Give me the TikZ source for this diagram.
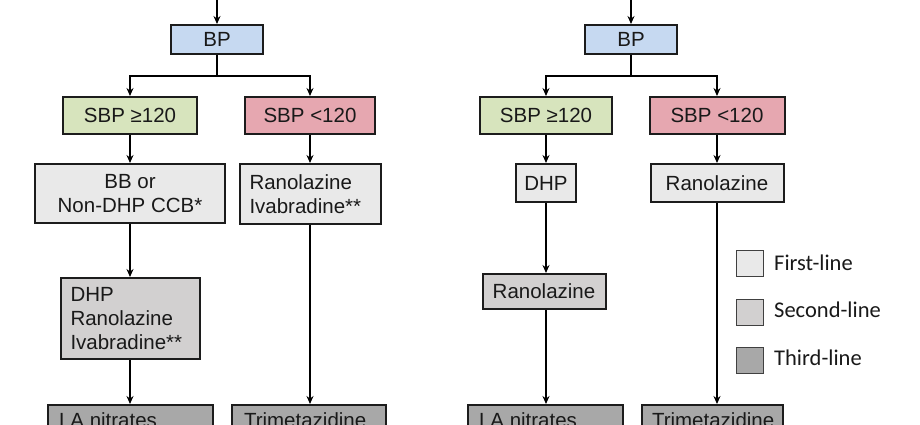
\documentclass[tikz,border=0pt]{standalone}
\usepackage{fontspec}
\setmainfont{Liberation Sans}
\newfontfamily\legfont{Carlito}
\usetikzlibrary{arrows.meta}
\definecolor{bpblue}{HTML}{C6D9F1}
\definecolor{sbpgreen}{HTML}{D7E4BD}
\definecolor{sbpred}{HTML}{E6A7B0}
\definecolor{firstl}{HTML}{E9E9E9}
\definecolor{secondl}{HTML}{D2D0D0}
\definecolor{thirdl}{HTML}{A8A8A8}
\definecolor{edge}{HTML}{1C1C1C}
\tikzset{
  box/.style={draw=edge, line width=2pt, inner sep=0pt, font=\fontsize{20.5}{24}\selectfont, text=black!90},
  boxl/.style={box, align=left, text depth=0pt},
  boxc/.style={box, align=center},
  conn/.style={draw=black, line width=2pt, -{Stealth[length=8pt,width=7pt]}},
  plain/.style={draw=black, line width=2pt},
  legbox/.style={draw=black!75, line width=1pt, minimum width=27pt, minimum height=26pt, inner sep=0pt},
  legtxt/.style={font=\legfont\fontsize{22.5}{26}\selectfont, anchor=west, text=black!90, inner sep=0pt}
}
\begin{document}
\begin{tikzpicture}[x=1pt,y=-1pt]
\useasboundingbox (0,0) rectangle (920,425);
\clip (0,0) rectangle (920,425);
% ---------- left tree ----------
\coordinate (topL) at (217,-5);
\node[boxc, fill=bpblue, minimum width=92pt, minimum height=29pt] (bpL) at (217,39.5) {BP};
\node[boxc, fill=sbpgreen, minimum width=134pt, minimum height=37pt] (geL) at (130,115.5) {SBP ≥120};
\node[boxc, fill=sbpred, minimum width=130pt, minimum height=37pt] (ltL) at (310,115.5) {SBP <120};
\node[boxc, fill=firstl, minimum width=190pt, minimum height=59pt] (bbL) at (130,193.5) {BB or\\Non-DHP CCB*};
\node[boxc, fill=firstl, minimum width=141pt, minimum height=60pt] (riL) at (310,194) {};
\node[boxl, anchor=west, draw=none] (riLt) at ([xshift=10pt]riL.west) {Ranolazine\\Ivabradine**};
\node[boxc, fill=secondl, minimum width=139pt, minimum height=81pt] (dhpL) at (130,318.5) {};
\node[boxl, anchor=west, draw=none] (dhpLt) at ([xshift=10pt]dhpL.west) {DHP\\Ranolazine\\Ivabradine**};
\node[boxc, fill=thirdl, minimum width=165pt, minimum height=60pt] (laL) at (130.5,435) {};
\node[boxl, anchor=base west, draw=none] (laLt) at (58,427.5) {LA nitrates};
\node[boxc, fill=thirdl, minimum width=154pt, minimum height=60pt] (tmL) at (309,435) {};
\node[boxl, anchor=base west, draw=none] (tmLt) at (243,427.5) {Trimetazidine};
\path[conn] (topL) -- (bpL.north);
\path[plain] (bpL.south) -- (bpL.south |- 0,76);
\path[conn] (geL.north |- 0,76) -- (geL.north);
\path[conn] (ltL.north |- 0,76) -- (ltL.north);
\path[plain] ([xshift=-1pt]geL.north |- 0,76) -- ([xshift=1pt]ltL.north |- 0,76);
\path[conn] (geL.south) -- (bbL.north);
\path[conn] (ltL.south) -- (ltL.south |- riL.north);
\path[conn] (bbL.south) -- (bbL.south |- dhpL.north);
\path[conn] (dhpL.south) -- (dhpL.south |- laL.north);
\path[conn] (riL.south) -- (riL.south |- tmL.north);
% ---------- right tree ----------
\coordinate (topR) at (631,-5);
\node[boxc, fill=bpblue, minimum width=92pt, minimum height=29pt] (bpR) at (631,39.5) {BP};
\node[boxc, fill=sbpgreen, minimum width=132pt, minimum height=37pt] (geR) at (546,115.5) {SBP ≥120};
\node[boxc, fill=sbpred, minimum width=135pt, minimum height=37pt] (ltR) at (717,115.5) {SBP <120};
\node[boxc, fill=firstl, minimum width=60pt, minimum height=38pt] (dhpR) at (546,183) {DHP};
\node[boxc, fill=firstl, minimum width=133pt, minimum height=38pt] (ranR) at (717,183) {Ranolazine};
\node[boxc, fill=secondl, minimum width=123pt, minimum height=35pt] (ran2R) at (544,291.5) {Ranolazine};
\node[boxc, fill=thirdl, minimum width=155pt, minimum height=60pt] (laR) at (545.5,435) {};
\node[boxl, anchor=base west, draw=none] (laRt) at (478,427.5) {LA nitrates};
\node[boxc, fill=thirdl, minimum width=141pt, minimum height=60pt] (tmR) at (712.5,435) {};
\node[boxl, anchor=base west, draw=none] (tmRt) at (651,427.5) {Trimetazidine};
\path[conn] (topR) -- (bpR.north);
\path[plain] (bpR.south) -- (bpR.south |- 0,76);
\path[plain] ([xshift=-1pt]geR.north |- 0,76) -- ([xshift=1pt]ltR.north |- 0,76);
\path[conn] (geR.north |- 0,76) -- (geR.north);
\path[conn] (ltR.north |- 0,76) -- (ltR.north);
\path[conn] (geR.south) -- (dhpR.north);
\path[conn] (ltR.south) -- (ranR.north);
\path[conn] (dhpR.south) -- (dhpR.south |- ran2R.north);
\path[conn] (dhpR.south |- ran2R.south) -- (dhpR.south |- laR.north);
\path[conn] (ranR.south) -- (ranR.south |- tmR.north);
% ---------- legend ----------
\node[legbox, fill=firstl] (lg1) at (749.5,263.5) {};
\node[legbox, fill=secondl] (lg2) at (749.5,312.5) {};
\node[legbox, fill=thirdl] (lg3) at (749.5,360) {};
\node[legtxt] (lt1) at (774,263) {First-line};
\node[legtxt] (lt2) at (774,310) {Second-line};
\node[legtxt] (lt3) at (774,358) {Third-line};
\end{tikzpicture}
\end{document}
